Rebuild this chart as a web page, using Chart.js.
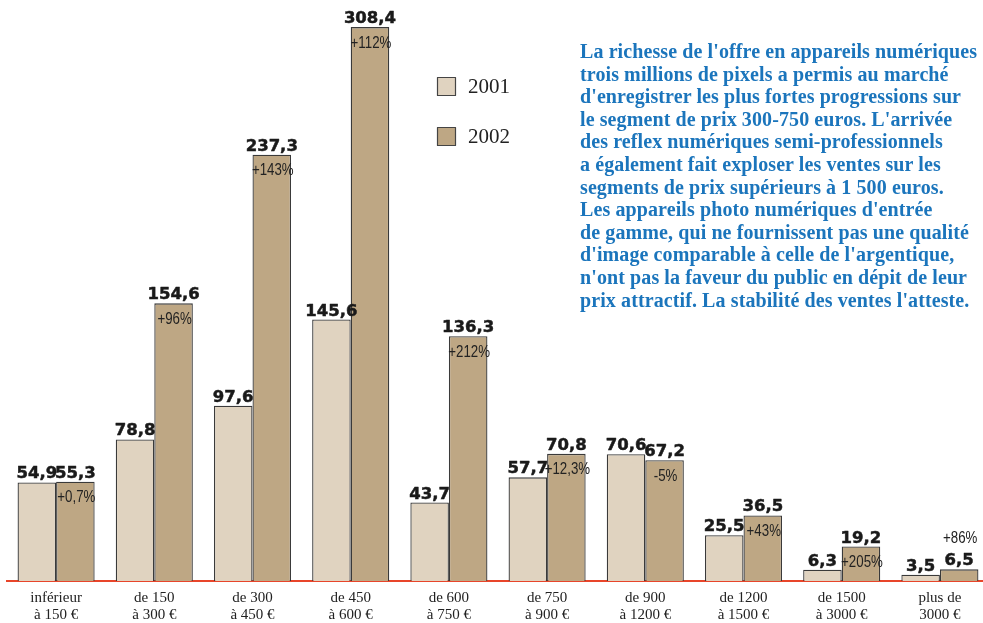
<!DOCTYPE html>
<html lang="fr">
<head>
<meta charset="utf-8">
<script src="https://cdn.jsdelivr.net/npm/chart.js@4.4.1/dist/chart.umd.min.js"></script>
<style>
  html, body { margin: 0; padding: 0; background: #ffffff; overflow: hidden; width: 983px; height: 623px; }
  #wrap { position: relative; width: 983px; height: 623px; }
  canvas { position: absolute; left: 0; top: 0; }
  #note {
    position: absolute; left: 580px; top: 40px; width: 420px;
    font-family: "Liberation Serif", "Times New Roman", serif; font-weight: bold;
    font-size: 20px; line-height: 22.6px; letter-spacing: 0.1px; color: #1b75bc; white-space: pre;
  }
</style>
</head>
<body>
<div id="wrap">
  <canvas id="c" width="989" height="623"></canvas>
  <div id="note">La richesse de l'offre en appareils numériques
trois millions de pixels a permis au marché
d'enregistrer les plus fortes progressions sur
le segment de prix 300-750 euros. L'arrivée
des reflex numériques semi-professionnels
a également fait exploser les ventes sur les
segments de prix supérieurs à 1 500 euros.
Les appareils photo numériques d'entrée
de gamme, qui ne fournissent pas une qualité
d'image comparable à celle de l'argentique,
n'ont pas la faveur du public en dépit de leur
prix attractif. La stabilité des ventes l'atteste.</div>
</div>
<script>
const categories = [
  ["inférieur", "à 150 €"],
  ["de 150", "à 300 €"],
  ["de 300", "à 450 €"],
  ["de 450", "à 600 €"],
  ["de 600", "à 750 €"],
  ["de 750", "à 900 €"],
  ["de 900", "à 1200 €"],
  ["de 1200", "à 1500 €"],
  ["de 1500", "à 3000 €"],
  ["plus de", "3000 €"]
];
const sales2001 = [54.9, 78.8, 97.6, 145.6, 43.7, 57.7, 70.6, 25.5, 6.3, 3.5];
const sales2002 = [55.3, 154.6, 237.3, 308.4, 136.3, 70.8, 67.2, 36.5, 19.2, 6.5];
const growth = ["+0,7%", "+96%", "+143%", "+112%", "+212%", "+12,3%", "-5%", "+43%", "+205%", "+86%"];
const seriesNames = ["2001", "2002"];

const fmt = v => v.toFixed(1).replace(".", ",");

const labelPlugin = {
  id: "labels",
  afterDatasetsDraw(chart) {
    const ctx = chart.ctx;
    ctx.save();
    // value labels
    ctx.font = "bold 16.5px 'DejaVu Sans', sans-serif";
    ctx.fillStyle = "#1a1a1a";
    ctx.strokeStyle = "#1a1a1a";
    ctx.lineWidth = 0.5;
    ctx.lineJoin = "round";
    ctx.textAlign = "center";
    ctx.textBaseline = "alphabetic";
    chart.data.datasets.forEach((ds, di) => {
      const meta = chart.getDatasetMeta(di);
      meta.data.forEach((bar, i) => {
        const t = fmt(ds.data[i]);
        ctx.fillText(t, bar.x, bar.y - 4);
        ctx.strokeText(t, bar.x, bar.y - 4);
      });
    });
    // growth labels (condensed sans)
    ctx.font = "16px 'Liberation Sans', Arial, sans-serif";
    ctx.fillStyle = "#222";
    ctx.textBaseline = "middle";
    const meta2 = chart.getDatasetMeta(1);
    meta2.data.forEach((bar, i) => {
      const h = chart.scales.y.getPixelForValue(0) - bar.y;
      const y = h > 28 ? bar.y + 16 : bar.y - 31;
      ctx.save();
      ctx.translate(bar.x + 1, y);
      ctx.scale(0.83, 1);
      ctx.fillText(growth[i], 0, 0);
      ctx.restore();
    });
    // legend
    const leg = [{y: 77}, {y: 127}];
    chart.data.datasets.forEach((ds, di) => {
      const y = leg[di].y;
      ctx.fillStyle = ds.backgroundColor;
      ctx.fillRect(437, y, 19, 19);
      ctx.strokeStyle = "#444";
      ctx.lineWidth = 1.2;
      ctx.strokeRect(437.5, y + 0.5, 18, 18);
      ctx.fillStyle = "#222";
      ctx.font = "21px 'Liberation Serif', 'Times New Roman', serif";
      ctx.textAlign = "left";
      ctx.textBaseline = "middle";
      ctx.fillText(seriesNames[di], 468, y + 10);
    });
    ctx.restore();
  }
};

new Chart(document.getElementById("c"), {
  type: "bar",
  data: {
    labels: categories,
    datasets: [
      { label: seriesNames[0], data: sales2001, backgroundColor: "#e0d3c0", borderColor: "#3a3a3a", borderWidth: 1.3 },
      { label: seriesNames[1], data: sales2002, backgroundColor: "#bea784", borderColor: "#3a3a3a", borderWidth: 1.3 }
    ]
  },
  options: {
    responsive: false,
    animation: false,
    devicePixelRatio: 1,
    layout: { padding: { left: 7, right: 0, top: 0, bottom: 0 } },
    datasets: { bar: { barPercentage: 1.0, categoryPercentage: 0.785 } },
    plugins: { legend: { display: false }, tooltip: { enabled: false } },
    scales: {
      x: {
        grid: { display: false },
        border: { display: true, color: "#e8452a", width: 2 },
        ticks: {
          color: "#222",
          font: { family: "'Liberation Serif', 'Times New Roman', serif", size: 15, lineHeight: 1.15 },
          padding: 0,
          maxRotation: 0,
          autoSkip: false
        },
        afterFit: s => { s.height = 42; }
      },
      y: { display: false, min: 0, max: 323.5 }
    }
  },
  plugins: [labelPlugin]
});
</script>
</body>
</html>
